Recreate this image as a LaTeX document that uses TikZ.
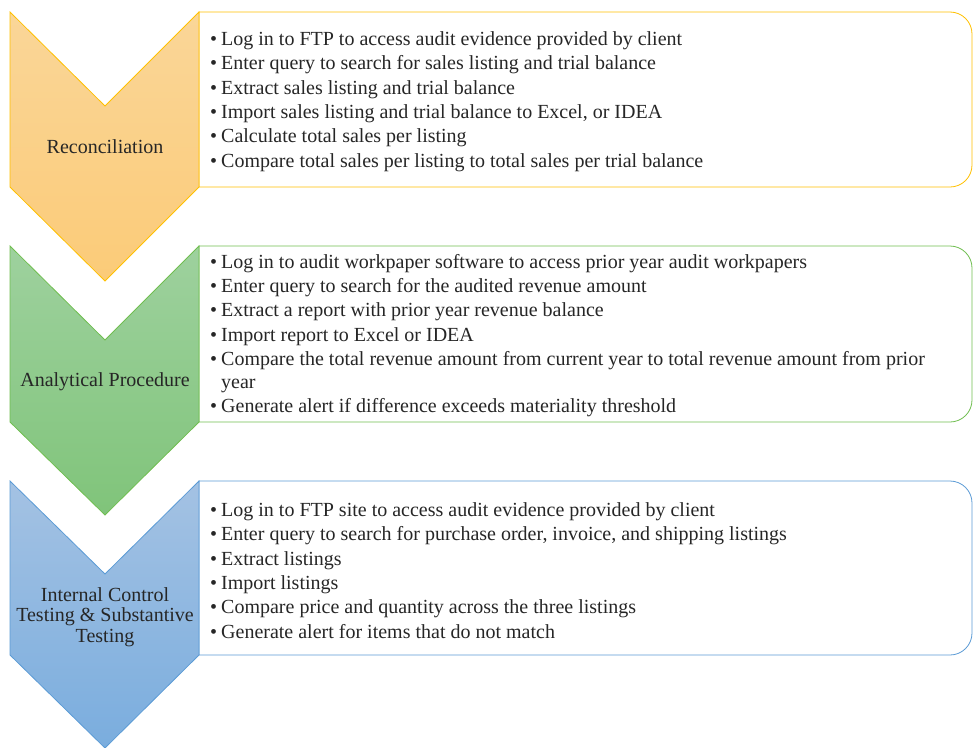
\documentclass[tikz,border=0pt]{standalone}
\usepackage{fontspec}
\setmainfont{Liberation Serif}
\definecolor{txt}{RGB}{38,38,38}
\definecolor{orTop}{RGB}{250,214,152}
\definecolor{orBot}{RGB}{251,203,120}
\definecolor{orLine}{RGB}{255,192,0}
\definecolor{grTop}{RGB}{158,209,158}
\definecolor{grBot}{RGB}{128,196,122}
\definecolor{grLine}{RGB}{112,190,80}
\definecolor{blTop}{RGB}{164,194,227}
\definecolor{blBot}{RGB}{122,173,222}
\definecolor{blLine}{RGB}{91,155,213}
\newcommand{\itm}[1]{\makebox[11pt][l]{\textbullet}#1}
\begin{document}
\begin{tikzpicture}[x=1pt,y=1pt,
  chev/.style={line width=0.8pt, shading=axis, shading angle=0},
  panel/.style={line width=0.8pt, fill=white},
  listtext/.style={anchor=west, inner sep=0pt, align=left, text=txt,
    font=\fontsize{20}{24.4}\selectfont},
  lab/.style={inner sep=0pt, align=center, text=txt,
    font=\fontsize{20}{20.5}\selectfont}]
\useasboundingbox (0,0) rectangle (973,-747);
% ---------- panel 1 ----------
\draw[panel, draw=orLine] (199,-12) -- (950,-12) arc[start angle=90,end angle=0,radius=22pt]
  -- (972,-165) arc[start angle=0,end angle=-90,radius=22pt] -- (199,-187) -- cycle;
\draw[chev, draw=orLine, top color=orTop, bottom color=orBot]
  (10,-12) -- (105,-106) -- (199,-12) -- (199,-187) -- (105,-281) -- (10,-187) -- cycle;
\node[lab] (l1) at (105,-146.5) {Reconciliation};
\node[listtext] (t1) at (210,-101.5) {%
\itm{Log in to FTP to access audit evidence provided by client}\\
\itm{Enter query to search for sales listing and trial balance}\\
\itm{Extract sales listing and trial balance}\\
\itm{Import sales listing and trial balance to Excel, or IDEA}\\
\itm{Calculate total sales per listing}\\
\itm{Compare total sales per listing to total sales per trial balance}};
% ---------- panel 2 ----------
\draw[panel, draw=grLine] (199,-246) -- (950,-246) arc[start angle=90,end angle=0,radius=22pt]
  -- (972,-400) arc[start angle=0,end angle=-90,radius=22pt] -- (199,-422) -- cycle;
\draw[chev, draw=grLine, top color=grTop, bottom color=grBot]
  (10,-246) -- (105,-340) -- (199,-246) -- (199,-422) -- (105,-515) -- (10,-422) -- cycle;
\node[lab] (l2) at (105,-382) {Analytical Procedure};
\node[listtext] (t2) at (210,-335.5) {%
\itm{Log in to audit workpaper software to access prior year audit workpapers}\\
\itm{Enter query to search for the audited revenue amount}\\
\itm{Extract a report with prior year revenue balance}\\
\itm{Import report to Excel or IDEA}\\
\itm{Compare the total revenue amount from current year to total revenue amount from prior}\\[-2pt]
\hspace*{11pt}year\\
\itm{Generate alert if difference exceeds materiality threshold}};
% ---------- panel 3 ----------
\draw[panel, draw=blLine] (199,-481) -- (950,-481) arc[start angle=90,end angle=0,radius=22pt]
  -- (972,-633) arc[start angle=0,end angle=-90,radius=22pt] -- (199,-655) -- cycle;
\draw[chev, draw=blLine, top color=blTop, bottom color=blBot]
  (10,-481) -- (105,-574) -- (199,-481) -- (199,-655) -- (105,-748) -- (10,-655) -- cycle;
\node[lab] (l3) at (105,-617) {Internal Control\\Testing \& Substantive\\Testing};
\node[listtext] (t3) at (210,-570.5) {%
\itm{Log in to FTP site to access audit evidence provided by client}\\
\itm{Enter query to search for purchase order, invoice, and shipping listings}\\
\itm{Extract listings}\\
\itm{Import listings}\\
\itm{Compare price and quantity across the three listings}\\
\itm{Generate alert for items that do not match}};
\end{tikzpicture}
\end{document}
